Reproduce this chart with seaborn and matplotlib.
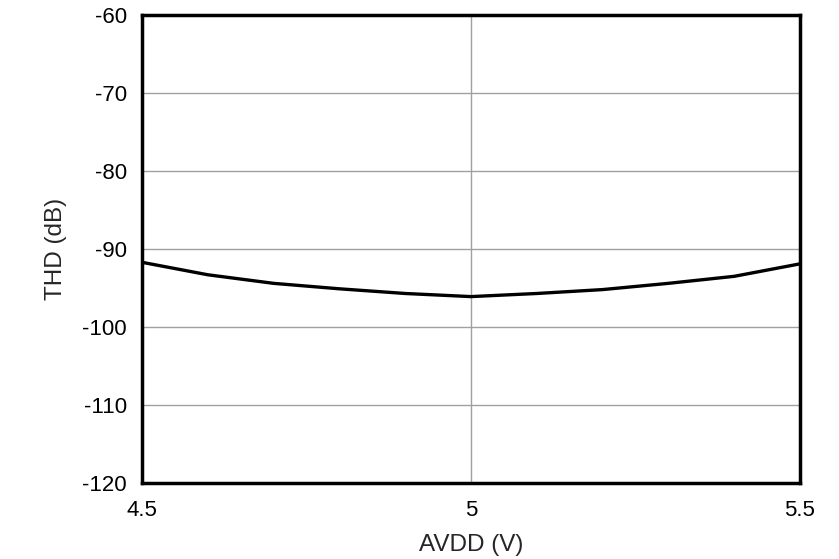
import matplotlib
matplotlib.use("Agg")
import matplotlib.pyplot as plt
import pandas as pd
import seaborn as sns

avdd = [4.5, 4.6, 4.7, 4.8, 4.9, 5.0, 5.1, 5.2, 5.3, 5.4, 5.5]
thd = [-91.7, -93.3, -94.4, -95.1, -95.7, -96.1, -95.7, -95.2, -94.4, -93.5, -91.9]
x_ticks = [4.5, 5, 5.5]
x_labels = ["4.5", "5", "5.5"]
y_ticks = [-120, -110, -100, -90, -80, -70, -60]

sns.set_style("white")
plt.rcParams['font.family'] = ['Liberation Sans', 'DejaVu Sans']
plt.rcParams['axes.unicode_minus'] = False

df = pd.DataFrame({"AVDD": avdd, "THD": thd})

fig = plt.figure(figsize=(8.39, 5.59), dpi=100)
ax = fig.add_axes([0.1692, 0.136, 0.7843, 0.837])
sns.lineplot(data=df, x="AVDD", y="THD", ax=ax, color="black", linewidth=2.4)

ax.set_xlim(4.5, 5.5)
ax.set_ylim(-120, -60)
ax.set_xticks(x_ticks)
ax.set_xticklabels(x_labels)
ax.set_yticks(y_ticks)
ax.grid(True, color="#a0a0a0", linewidth=1)
ax.set_axisbelow(True)
for s in ax.spines.values():
    s.set_color("black")
    s.set_linewidth(2.5)
ax.tick_params(length=0, labelsize=16, colors="black")
ax.tick_params(axis="x", pad=12)
ax.tick_params(axis="y", pad=11)
ax.set_xlabel("AVDD (V)", fontsize=17.5)
ax.set_ylabel("THD (dB)", fontsize=17.5)
ax.xaxis.set_label_coords(0.5, -0.11)
ax.yaxis.set_label_coords(-0.114, 0.5)

fig.savefig("out.png", dpi=100)
